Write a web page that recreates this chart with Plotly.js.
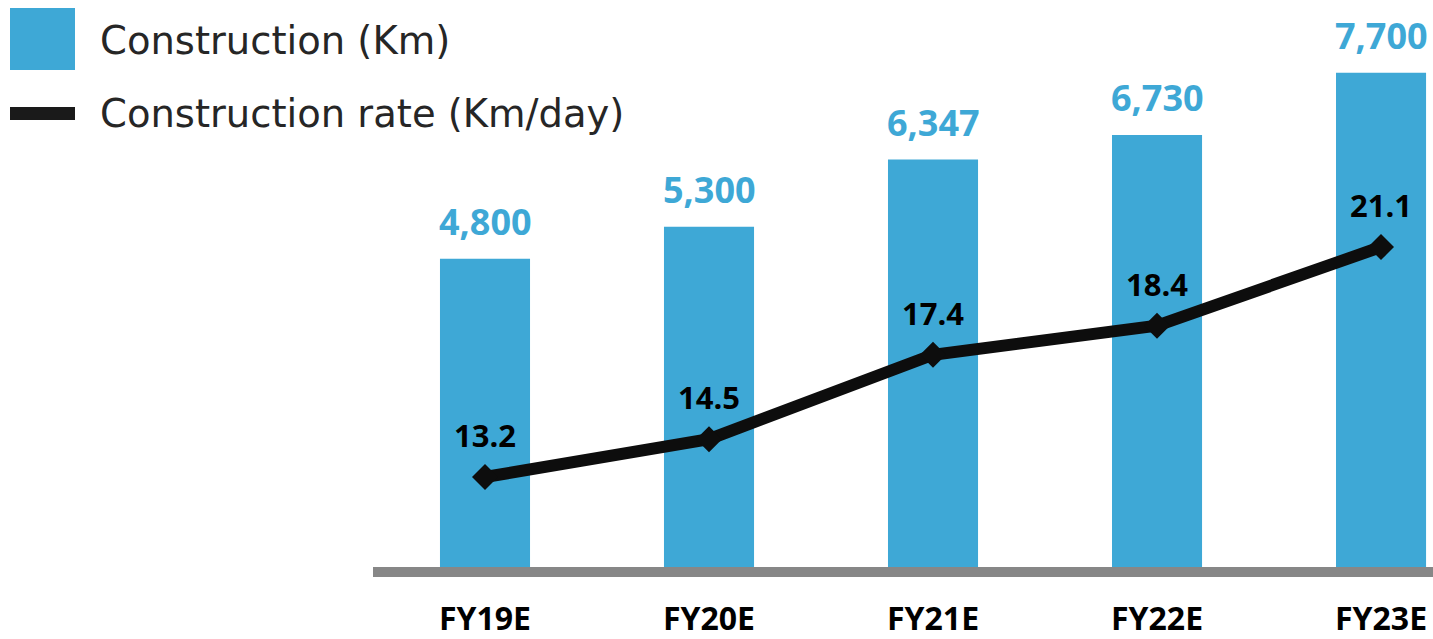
<!DOCTYPE html>
<html><head><meta charset="utf-8">
<script src="https://cdn.plot.ly/plotly-3.0.1.min.js"></script>
<style>html,body{margin:0;padding:0;background:#fff}#chart{width:1433px;height:639px}</style>
</head><body><div id="chart"></div>
<script>
const categories = ['FY19E','FY20E','FY21E','FY22E','FY23E'];
const constructionKm = [4800, 5300, 6347, 6730, 7700];
const constructionRate = [13.2, 14.5, 17.4, 18.4, 21.1];
const barLabels = ['4,800','5,300','6,347','6,730','7,700'];
const rateLabels = ['13.2','14.5','17.4','18.4','21.1'];
const legendNames = ['Construction (Km)','Construction rate (Km/day)'];

const BLUE = '#3ea8d6';
const BLACK = '#0d0d0d';
const M = {l:373, r:0, t:40, b:72};
const W = 1433, H = 639;
const PW = W - M.l - M.r, PH = H - M.t - M.b;
const px = x => (x - M.l) / PW;
const py = y => (H - M.b - y) / PH;

const traces = [
  {type:'bar', x:categories, y:constructionKm, name:legendNames[0],
   marker:{color:BLUE}, hoverinfo:'skip'},
  {type:'scatter', mode:'lines+markers', x:categories, y:constructionRate, yaxis:'y2',
   name:legendNames[1], line:{color:BLACK, width:12},
   marker:{symbol:'diamond', size:20, color:BLACK}, hoverinfo:'skip', cliponaxis:false}
];

const annotations = [];
categories.forEach((c,i)=>{
  annotations.push({x:c, y:constructionKm[i], xref:'x', yref:'y', text:barLabels[i],
    showarrow:false, yanchor:'bottom', yshift:11,
    font:{family:'Open Sans', size:36, color:BLUE, weight:700}});
  annotations.push({x:c, y:constructionRate[i], xref:'x', yref:'y2', text:rateLabels[i],
    showarrow:false, yanchor:'bottom', yshift:19,
    font:{family:'Open Sans', size:31, color:'#000', weight:700}});
});
annotations.push({xref:'paper', yref:'paper', x:px(98), y:py(40), xanchor:'left', yanchor:'middle',
  text:legendNames[0], showarrow:false, font:{family:'DejaVu Sans', size:38.5, color:'#262626'}});
annotations.push({xref:'paper', yref:'paper', x:px(98), y:py(113), xanchor:'left', yanchor:'middle',
  text:legendNames[1], showarrow:false, font:{family:'DejaVu Sans', size:38.5, color:'#262626'}});

const shapes = [
  {type:'rect', xref:'paper', yref:'paper', x0:px(10), x1:px(75), y0:py(70), y1:py(8),
   fillcolor:BLUE, line:{width:0}},
  {type:'rect', xref:'paper', yref:'paper', x0:px(10), x1:px(75), y0:py(120), y1:py(107),
   fillcolor:'#1a1a1a', line:{width:0}}
];

const layout = {
  width:W, height:H, margin:M, showlegend:false,
  paper_bgcolor:'#fff', plot_bgcolor:'#fff',
  bargap:0.598,
  xaxis:{type:'category', range:[-0.5, 4.232], showline:true, linewidth:10, linecolor:'#878787',
    ticks:'', showgrid:false, zeroline:false, ticklabelstandoff:15,
    tickfont:{family:'Open Sans', size:32, color:'#000', weight:700}, fixedrange:true},
  yaxis:{range:[0, 8209], visible:false, showgrid:false, zeroline:false, fixedrange:true},
  yaxis2:{range:[10.11, 28.21], overlaying:'y', visible:false, showgrid:false, zeroline:false, fixedrange:true},
  annotations, shapes
};
Plotly.newPlot('chart', traces, layout, {displayModeBar:false, staticPlot:true});
</script></body></html>
